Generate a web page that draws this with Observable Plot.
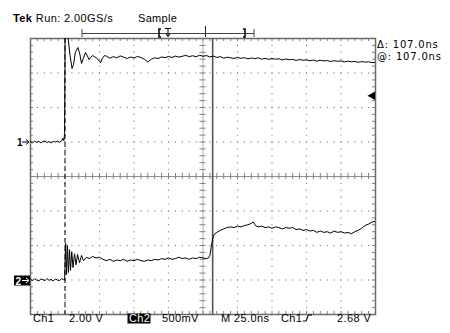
<!DOCTYPE html>
<html><head><meta charset="utf-8">
<script src="https://cdn.jsdelivr.net/npm/d3@7"></script>
<script src="https://cdn.jsdelivr.net/npm/@observablehq/plot@0.6"></script>
<style>
body{margin:0;background:#fff;}
#wrap{position:relative;width:450px;height:333px;}
#wrap svg{position:absolute;left:0;top:0;}
</style></head><body><div id="wrap"></div>
<script>
// ---- data (time in ns from left edge of screen, volts) ----
const ch1T = [0,1.5,3,4.5,6,7.5,9,10.5,12,13.5,15,16.5,18,19.5,21,22.5,23.5,24.2,24.7,25.1,25.6,26.3,27.0,28.7,30.1,31.2,32.5,34.4,35.7,37.0,38.3,39.9,41.2,42.4,43.6,44.9,46.3,47.8,49.2,50.7,52.1,53.6,
  55,57.5,60,62.5,65,67.5,70,72.5,75,77.5,80,82.5,85,87.5,90,92.5,95,97.5,100,102.5,105,107.5,110,112.5,115,117.5,120,122.5,125,127.5,130,132.5,135,137.5,140,142.5,145,147.5,150,152.5,155,157.5,160,162.5,165,167.5,170,172.5,175,177.5,180,182.5,185,187.5,190,192.5,195,197.5,200,202.5,205,207.5,210,212.5,215,217.5,220,222.5,225,227.5,230,232.5,235,237.5,240,242.5,245,247.5,250];
const ch1V = [0.02,-0.04,0.05,-0.02,0.04,-0.05,0.03,0.06,-0.03,0.02,-0.05,0.04,0.0,0.06,-0.02,0.05,0.22,0.08,0.5,6.8,6.8,6.8,6.2,5.0,4.26,4.5,5.2,5.48,5.1,4.55,4.85,5.19,5.0,4.78,4.9,5.01,4.95,4.88,4.75,4.61,4.85,5.01,
  4.98,4.86,4.95,4.88,4.99,4.92,4.84,4.93,4.87,4.96,4.90,4.80,4.64,4.80,4.88,4.84,4.93,4.89,4.96,4.90,4.98,4.92,4.97,5.02,4.95,5.00,4.94,5.03,4.97,5.01,4.93,4.98,4.90,4.95,4.86,4.92,4.88,4.84,4.91,4.85,4.89,4.82,4.87,4.83,4.88,4.80,4.85,4.79,4.84,4.80,4.82,4.76,4.81,4.77,4.79,4.73,4.78,4.74,4.76,4.71,4.75,4.69,4.74,4.70,4.72,4.67,4.71,4.68,4.70,4.64,4.69,4.65,4.67,4.62,4.66,4.63,4.65,4.60,4.62];
const ch2T = [0,1.5,3,4.5,6,7.5,9,10.5,12,13.5,15,16.5,18,19.5,21,22.5,24,24.7,25.5,26.1,26.8,27.5,28.3,29.0,29.9,30.8,31.9,33.0,34.1,35.5,37.0,38.4,40.6,
  42.5,45,47.5,50,52.5,55,57.5,60,62.5,65,67.5,70,72.5,75,77.5,80,82.5,85,87.5,90,92.5,95,97.5,100,102.5,105,107.5,110,112.5,115,117.5,120,122.5,125,127.5,
  129,130,131,132,133,135,137.5,140,142.5,145,147.5,150,152.5,155,157.5,160,161.5,163,165,
  167.5,170,172.5,175,177.5,180,182.5,185,187.5,190,192.5,195,197.5,200,202.5,205,207.5,210,212.5,215,217.5,220,222.5,225,227.5,230,232.5,235,237.5,240,242.5,245,247.5,250];
const ch2V = [0.01,-0.01,0.02,0.0,-0.015,0.015,0.005,-0.01,0.02,-0.005,0.01,-0.015,0.015,0.0,-0.01,0.02,0.005,0.0,0.53,0.08,0.50,0.11,0.44,0.14,0.41,0.18,0.38,0.22,0.37,0.25,0.355,0.28,0.33,
  0.31,0.34,0.32,0.33,0.30,0.28,0.30,0.27,0.29,0.28,0.30,0.27,0.29,0.28,0.30,0.28,0.27,0.29,0.28,0.30,0.29,0.31,0.30,0.32,0.30,0.31,0.33,0.31,0.32,0.30,0.32,0.31,0.33,0.32,0.31,
  0.32,0.36,0.48,0.60,0.66,0.69,0.72,0.74,0.76,0.77,0.76,0.78,0.77,0.79,0.80,0.82,0.84,0.79,0.77,
  0.78,0.76,0.77,0.75,0.77,0.76,0.74,0.76,0.75,0.76,0.73,0.74,0.72,0.73,0.71,0.72,0.69,0.71,0.69,0.70,0.68,0.71,0.69,0.70,0.68,0.69,0.67,0.70,0.72,0.75,0.79,0.81,0.84,0.85];

// scope settings
const ch1Scale = 2.0, ch1Gnd = 1;     // V/div, ground position (div)
const ch2Scale = 0.5, ch2Gnd = -3;
const cursorA = 25, cursorDelta = 107; // ns
const trigLevel = 2.68;                // V on Ch1
const divT = [0,25,50,75,100,125,150,175,200,225,250];
const divD = [-4,-3,-2,-1,0,1,2,3,4];
const topLabels = ["Tek", "Run: 2.00GS/s", "Sample"];
const cursorLabels = ["\u0394: 107.0ns", "@: 107.0ns"];
const bottomLabels = ["Ch1", "2.00 V", "Ch2", "500mV", "M 25.0ns", "Ch1", "2.68 V"];

const ch1 = ch1T.map((t,i)=>({t, d: ch1V[i]/ch1Scale + ch1Gnd}));
const ch2 = ch2T.map((t,i)=>({t, d: ch2V[i]/ch2Scale + ch2Gnd}));

// graticule helpers
const minorT = d3.range(0, 250.001, 5);
const minorD = d3.range(-4, 4.001, 0.2).map(v=>+v.toFixed(2));
const gridDots = [];
divT.filter(t=>t>0&&t<250&&t!==125).forEach(t=>minorD.forEach(d=>gridDots.push({t,d})));
divD.filter(d=>d!==0&&Math.abs(d)<4).forEach(d=>minorT.forEach(t=>gridDots.push({t,d})));
const tl = 0.09, tlT = 2.2;

const plot = Plot.plot({
  width: 450, height: 333,
  marginLeft: 30, marginRight: 75, marginTop: 38, marginBottom: 19,
  x: {domain: [0, 250], axis: null},
  y: {domain: [-4, 4], axis: null},
  style: {background: "transparent", overflow: "visible"},
  marks: [
    Plot.dot(gridDots, {x: "t", y: "d", r: 0.7, fill: "#8c8c8c", stroke: null}),
    Plot.ruleX([125], {stroke: "#b0b0b0", strokeWidth: 1}),
    Plot.ruleY([0], {stroke: "#909090", strokeWidth: 1}),
    Plot.ruleX(minorT, {x: d=>d, y1: -tl, y2: tl, stroke: "#808080"}),
    Plot.ruleY(minorD, {y: d=>d, x1: 125-tlT, x2: 125+tlT, stroke: "#808080"}),
    Plot.ruleX(minorT, {x: d=>d, y1: 4, y2: 4-tl, stroke: "#808080"}),
    Plot.ruleX(minorT, {x: d=>d, y1: -4, y2: -4+tl, stroke: "#808080"}),
    Plot.ruleY(minorD, {y: d=>d, x1: 0, x2: tlT, stroke: "#808080"}),
    Plot.ruleY(minorD, {y: d=>d, x1: 250, x2: 250-tlT, stroke: "#808080"}),
    Plot.frame({stroke: "#6a6a6a", strokeWidth: 1.5}),
    Plot.ruleX([cursorA], {stroke: "#000", strokeDasharray: "5,3", strokeWidth: 1}),
    Plot.ruleX([cursorA + cursorDelta], {stroke: "#555", strokeWidth: 1.6}),
    Plot.line(ch1, {x: "t", y: "d", stroke: "#000", strokeWidth: 1, clip: true}),
    Plot.line(ch2, {x: "t", y: "d", stroke: "#000", strokeWidth: 1, clip: true}),
    Plot.dot([trigLevel], {x: 250, y: v=>v/ch1Scale + ch1Gnd, symbol: "triangle", rotate: -90, r: 3.2, fill: "#000", stroke: null, dx: -3})
  ]
});
document.getElementById("wrap").appendChild(plot);

// overlay with readouts
const svg = d3.select("#wrap").append("svg").attr("width",450).attr("height",333)
  .style("font-family","'Liberation Sans', Arial, sans-serif").style("font-size","11px");
const t0 = svg.append("text").attr("x",13).attr("y",22).attr("letter-spacing","0.4");
t0.append("tspan").attr("font-weight","bold").text(topLabels[0]);
t0.append("tspan").text(" " + topLabels[1]);
svg.append("text").attr("x",138).attr("y",22).attr("letter-spacing","0.3").text(topLabels[2]);
// record bar
const rb = svg.append("g").attr("stroke","#444").attr("fill","none");
rb.append("line").attr("x1",82).attr("x2",254).attr("y1",33.5).attr("y2",33.5);
rb.append("line").attr("x1",82).attr("x2",82).attr("y1",29).attr("y2",37);
rb.append("line").attr("x1",254).attr("x2",254).attr("y1",29).attr("y2",37);
rb.append("line").attr("x1",205.5).attr("x2",205.5).attr("y1",26).attr("y2",37).attr("stroke","#222");
rb.append("path").attr("d","M161,29 h-2 v8 h2 M243,29 h2 v8 h-2").attr("stroke","#000").attr("stroke-width",1.5);
rb.append("path").attr("d","M165,28.5 h6 M168,28.5 v8 M166,34 l2,2.5 l2,-2.5").attr("stroke","#000").attr("stroke-width",1);
// cursor readouts
svg.append("text").attr("x",377).attr("y",48).attr("font-family","'DejaVu Sans', sans-serif").attr("font-size","10px").attr("letter-spacing","0.8").text(cursorLabels[0]);
svg.append("text").attr("x",377).attr("y",59.5).attr("font-family","'DejaVu Sans', sans-serif").attr("font-size","10px").attr("letter-spacing","0.8").text(cursorLabels[1]);
// channel markers
svg.append("text").attr("x",17).attr("y",146).attr("font-size","10px").attr("font-weight","bold").text("1");
svg.append("path").attr("d","M22,142 h6 M26,139.5 l3,2.5 l-3,2.5").attr("stroke","#000").attr("fill","none");
svg.append("rect").attr("x",14).attr("y",275.5).attr("width",16).attr("height",10).attr("fill","#000");
svg.append("text").attr("x",15.5).attr("y",284.5).attr("font-size","10px").attr("font-weight","bold").attr("fill","#fff").text("2");
svg.append("path").attr("d","M22,280.5 h6 M26,278 l3,2.5 l-3,2.5").attr("stroke","#fff").attr("fill","none");
// bottom readouts
const bx = [33,69,129,162,221,281,337];
bottomLabels.forEach((s,i)=>{
  if (i===2) {
    svg.append("rect").attr("x",127.5).attr("y",313.5).attr("width",23).attr("height",10).attr("fill","#000");
    svg.append("text").attr("x",bx[i]).attr("y",321.5).attr("fill","#fff").attr("letter-spacing","0.3").text(s);
  } else {
    svg.append("text").attr("x",bx[i]).attr("y",321.5).attr("letter-spacing","0.4").text(s);
  }
});
svg.append("path").attr("d","M303,321 h3 c1,0 1,-6 3,-6 h3").attr("stroke","#000").attr("fill","none").attr("stroke-width",1.2);
</script>
</body></html>
